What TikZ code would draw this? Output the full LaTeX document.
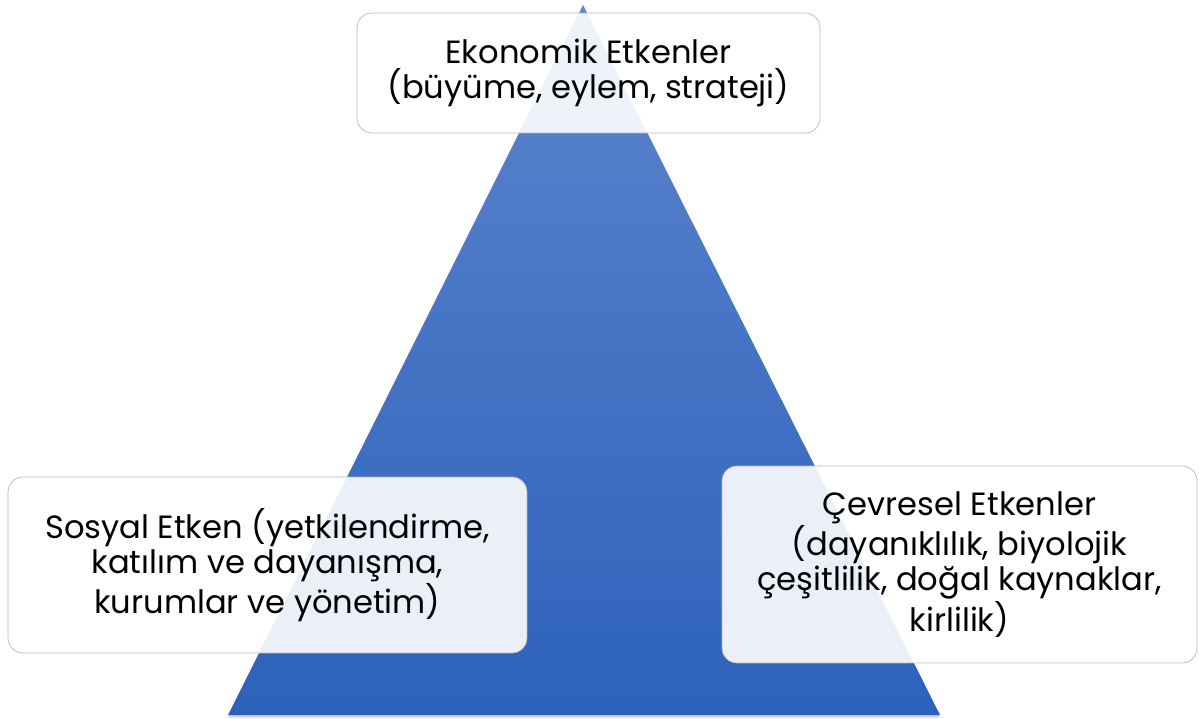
\documentclass[tikz,border=0pt]{standalone}
\usepackage{fontspec}
\setmainfont{Poppins}
\usetikzlibrary{shadows}

\definecolor{pyrtop}{RGB}{92,132,204}
\definecolor{pyrbot}{RGB}{45,98,187}
\tikzset{
  etken/.style={draw=gray!55, fill=white, fill opacity=0.9, text opacity=1,
    rounded corners=8.5pt, align=center, inner sep=0pt,
    font=\fontsize{18.3}{20.2}\selectfont}
}

\begin{document}
\begin{tikzpicture}[x=0.02cm,y=-0.02cm]
\useasboundingbox (0,0) rectangle (1199,719);
% piramit
\coordinate (tepe) at (583,5);
\coordinate (solalt) at (228,715);
\coordinate (sagalt) at (940,715);
\shade[top color=pyrtop, bottom color=pyrbot,
  drop shadow={shadow xshift=0pt, shadow yshift=-1.5pt, opacity=0.35}]
  (tepe) -- (sagalt) -- (solalt) -- cycle;
% etkenler
\node[etken, minimum width=9.26cm, minimum height=2.4cm] (ekonomik) at (588.5,73)
  {Ekonomik Etkenler\\(büyüme, eylem, strateji)};
\node[etken, minimum width=10.38cm, minimum height=3.52cm] (sosyal) at (267.5,565)
  {Sosyal Etken (yetkilendirme,\\katılım ve dayanışma,\\kurumlar ve yönetim)};
\node[etken, minimum width=9.5cm, minimum height=3.94cm] (cevresel) at (959.5,564.5)
  {Çevresel Etkenler\\(dayanıklılık, biyolojik\\çeşitlilik, doğal kaynaklar,\\kirlilik)};
\end{tikzpicture}
\end{document}
